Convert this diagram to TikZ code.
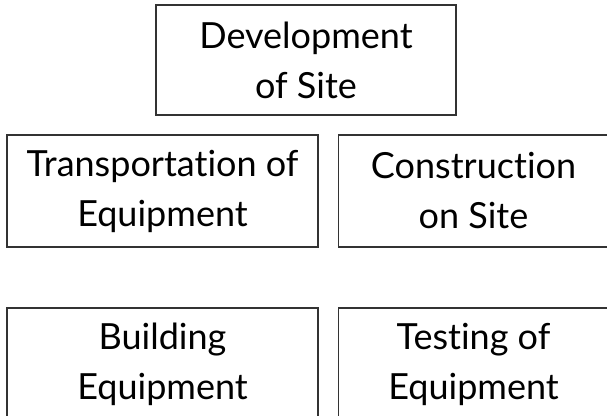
\documentclass[tikz,border=0pt]{standalone}
\usepackage{fontspec}
\setmainfont{Lato}[Ligatures=NoCommon]
\usetikzlibrary{positioning}

\begin{document}
\begin{tikzpicture}[x=1pt,y=-1pt,
        box/.style={draw=black!80, line width=1.3pt, align=center, inner sep=0pt,
                    font=\fontsize{36}{50}\selectfont}]
                \useasboundingbox (0,0) rectangle (607,415);
                \clip (0,0) rectangle (607,415);

                % top stage
                \node[box, minimum width=300pt, minimum height=110pt] (dev) at (306,60) {Development\\of Site};

                % middle row
                \node[box, minimum width=311pt, minimum height=112pt] (transport) at (162.5,191) {Transportation of\\Equipment};
                \node[box, minimum width=270pt, minimum height=112pt] (construct) at (473.5,191) {Construction\\on Site};

                % bottom row, runs off the page
                \node[box, minimum width=311pt, minimum height=112pt] (build) at (162.5,364) {Building\\Equipment};
                \node[box, minimum width=270pt, minimum height=112pt] (test)  at (473.5,364) {Testing of\\Equipment};
            \end{tikzpicture}
\end{document}
